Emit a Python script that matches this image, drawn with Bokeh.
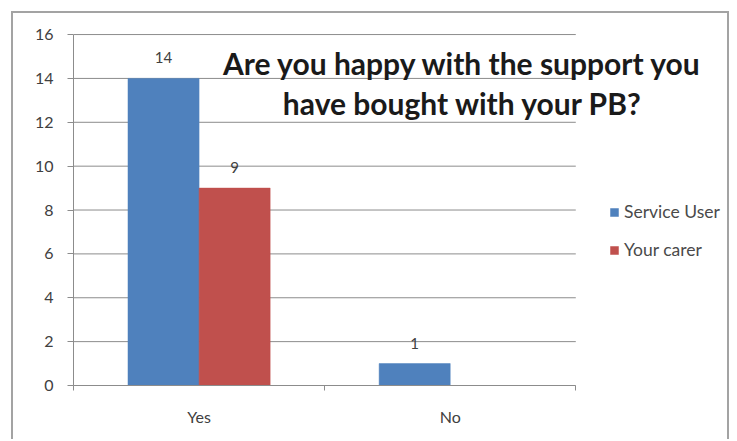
from bokeh.plotting import figure
from bokeh.models import (ColumnDataSource, LabelSet, Label, Legend, LegendItem,
                          Range1d, FixedTicker)
from bokeh.embed import file_html
from bokeh.resources import INLINE
from bokeh.core.properties import value

categories = ["Yes", "No"]
service_user = [14, 1]
your_carer = [9, 0]
series_names = ["Service User", "Your carer"]
y_ticks = [0, 2, 4, 6, 8, 10, 12, 14, 16]
title_lines = ["Are you happy with the support you", "have bought with your PB?"]

colors = ["#4F81BD", "#C0504D"]
FONT = "Lato"
BAR_W = 0.283
OFFS = [-BAR_W / 2, BAR_W / 2]
n_cat = len(categories)
centers = [i + 0.5 for i in range(n_cat)]

p = figure(width=718, height=428, x_range=Range1d(0, 2.62),
           y_range=Range1d(0, 16.96), output_backend="svg", toolbar_location=None,
           min_border_left=60, min_border_right=0, min_border_top=0,
           min_border_bottom=56)
p.margin = (11, 0, 0, 11)
p.styles = {"border-left": "2px solid #a3a3a3", "border-top": "2px solid #a3a3a3",
            "border-right": "2px solid #a3a3a3"}
p.outline_line_color = None
p.background_fill_color = "white"
p.border_fill_color = "white"
p.xgrid.grid_line_color = None
p.ygrid.grid_line_color = None

# horizontal gridlines across the category area
p.segment(x0=[0] * len(y_ticks), x1=[n_cat] * len(y_ticks), y0=y_ticks, y1=y_ticks,
          line_color="#8c8c8c", line_width=1)

renderers = []
for i, (vals, off) in enumerate(zip([service_user, your_carer], OFFS)):
    xs = [c + off for c in centers]
    src = ColumnDataSource(dict(x=xs, top=vals))
    r = p.vbar(x="x", top="top", width=BAR_W, source=src,
               fill_color=colors[i], line_color=colors[i], line_width=0.5)
    renderers.append(r)
    lab_src = ColumnDataSource(dict(
        x=[x for x, v in zip(xs, vals) if v != 0],
        v=[v for v in vals if v != 0],
        t=[str(v) for v in vals if v != 0]))
    p.add_layout(LabelSet(x="x", y="v", text="t", source=lab_src,
                          text_align="center", text_baseline="alphabetic",
                          y_offset=15, text_font=value(FONT),
                          text_font_size="15px", text_color="#404040"))

# axes
p.yaxis.ticker = FixedTicker(ticks=y_ticks)
p.yaxis.bounds = (0, 16)
p.yaxis.minor_tick_line_color = None
p.yaxis.major_tick_out = 6
p.yaxis.major_tick_in = 0
p.yaxis.axis_line_color = "#8c8c8c"
p.yaxis.major_tick_line_color = "#8c8c8c"
p.yaxis.major_label_text_font = FONT
p.yaxis.major_label_text_font_size = "16px"
p.yaxis.major_label_text_color = "#404040"
p.yaxis.major_label_standoff = 14

p.xaxis.ticker = FixedTicker(ticks=centers, minor_ticks=list(range(n_cat + 1)))
p.xaxis.major_label_overrides = {c: name for c, name in zip(centers, categories)}
p.xaxis.bounds = (0, n_cat)
p.xaxis.axis_line_color = "#8c8c8c"
p.xaxis.major_tick_line_color = None
p.xaxis.major_tick_out = 0
p.xaxis.minor_tick_line_color = "#8c8c8c"
p.xaxis.minor_tick_out = 5
p.xaxis.minor_tick_in = 0
p.xaxis.major_label_text_font = FONT
p.xaxis.major_label_text_font_size = "16px"
p.xaxis.major_label_text_color = "#404040"
p.xaxis.major_label_standoff = 16

# title inside the plot
for line, yv in zip(title_lines, [14.72, 12.9]):
    p.add_layout(Label(x=1.55, y=yv, text=line, text_align="center",
                       text_baseline="middle", text_font=FONT,
                       text_font_size="30px", text_font_style="bold",
                       text_color="#1a1a1a"))

# legend
legend = Legend(items=[LegendItem(label=n, renderers=[r]) for n, r in zip(series_names, renderers)],
                location=(536, 125), padding=0, margin=0, spacing=17,
                glyph_width=10, glyph_height=10, label_standoff=5,
                label_text_font=FONT, label_text_font_size="17.5px",
                label_text_color="#4a4a4a", border_line_color=None,
                background_fill_alpha=0)
p.add_layout(legend, "center")

open("out.html", "w").write(file_html(p, INLINE))
